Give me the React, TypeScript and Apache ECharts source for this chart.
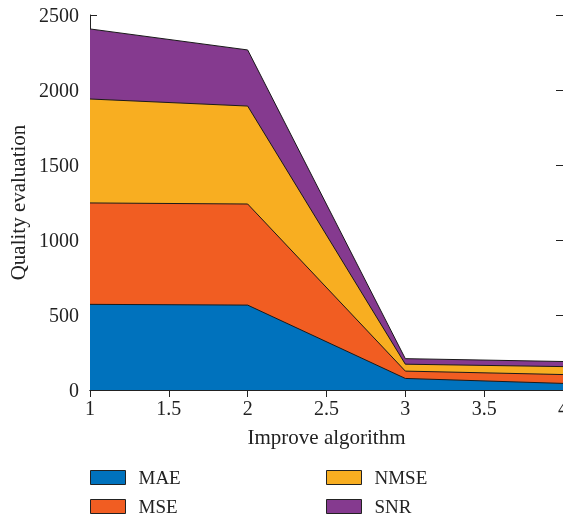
import React, { useEffect, useRef } from "react";
import * as echarts from "echarts";

const xValues = [1, 2, 3, 4];
const seriesNames = ["MAE", "MSE", "NMSE", "SNR"];
const maeValues = [571, 566, 77, 44];
const mseValues = [676, 674, 49, 59];
const nmseValues = [693, 653, 46, 53];
const snrValues = [467, 374, 37, 34];
const seriesColors = ["#0072BD", "#F15D22", "#F8AE21", "#853A8F"];

const FONT = "'Liberation Serif', 'DejaVu Serif', serif";
const TXT = "#222";

export default function App() {
  const ref = useRef<HTMLDivElement>(null);
  useEffect(() => {
    if (!ref.current) return;
    const chart = echarts.init(ref.current, undefined, { renderer: "svg" });
    const all = [maeValues, mseValues, nmseValues, snrValues];
    // cumulative (stacked) tops, computed from the data arrays
    const cumulative = all.map((_, i) =>
      xValues.map((_, j) => all.slice(0, i + 1).reduce((s, arr) => s + arr[j], 0))
    );
    const series = seriesNames.map((name, i) => ({
      name,
      type: "line" as const,
      symbol: "none",
      data: xValues.map((x, j) => [x, cumulative[i][j]]),
      lineStyle: { color: "#1a1a1a", width: 1 },
      itemStyle: { color: seriesColors[i] },
      areaStyle: { color: seriesColors[i], opacity: 1, origin: 0 },
      z: 10 - i,
    }));
    const legendPos = [
      { left: 90, top: 468 },
      { left: 90, top: 497 },
      { left: 326, top: 468 },
      { left: 326, top: 497 },
    ];
    const legends = seriesNames.map((name, i) => ({
      ...legendPos[i],
      orient: "horizontal" as const,
      itemWidth: 35,
      itemHeight: 14,
      padding: 0,
      textStyle: {
        fontFamily: FONT,
        fontSize: 19,
        lineHeight: 18,
        color: TXT,
        padding: [0, 0, 0, 8],
      },
      data: [
        {
          name,
          icon: "rect",
          itemStyle: { color: seriesColors[i], borderColor: "#222", borderWidth: 1 },
        },
      ],
    }));
    const axisLine = { show: true, lineStyle: { color: TXT, width: 1 } };
    const tick = { inside: true, length: 7, lineStyle: { color: TXT } };
    chart.setOption({
      animation: false,
      grid: { left: 90, top: 15, width: 473, height: 375, outerBoundsMode: "none", containLabel: false },
      legend: legends,
      xAxis: [
        {
          type: "value",
          min: 1,
          max: 4,
          interval: 0.5,
          name: "Improve algorithm",
          nameLocation: "middle",
          nameGap: 36,
          nameTextStyle: { fontFamily: FONT, fontSize: 21, color: TXT },
          axisLine,
          axisTick: tick,
          axisLabel: { fontFamily: FONT, fontSize: 20, color: TXT, margin: 8, formatter: (v: number) => String(v) },
          splitLine: { show: false },
        },
        {
          type: "value",
          position: "top",
          min: 1,
          max: 4,
          interval: 0.5,
          axisLine,
          axisTick: tick,
          axisLabel: { show: false },
          splitLine: { show: false },
        },
      ],
      yAxis: [
        {
          type: "value",
          min: 0,
          max: 2500,
          interval: 500,
          name: "Quality evaluation",
          nameLocation: "middle",
          nameGap: 56,
          nameTextStyle: { fontFamily: FONT, fontSize: 21, color: TXT },
          axisLine,
          axisTick: tick,
          axisLabel: { fontFamily: FONT, fontSize: 20, color: TXT, margin: 11, formatter: (v: number) => String(v) },
          splitLine: { show: false },
        },
        {
          type: "value",
          position: "right",
          min: 0,
          max: 2500,
          interval: 500,
          axisLine,
          axisTick: tick,
          axisLabel: { show: false },
          splitLine: { show: false },
        },
      ],
      series,
    });
    return () => chart.dispose();
  }, []);
  return (
    <div
      ref={ref}
      style={{ position: "fixed", left: 0, top: 0, width: 570, height: 517 }}
    />
  );
}
